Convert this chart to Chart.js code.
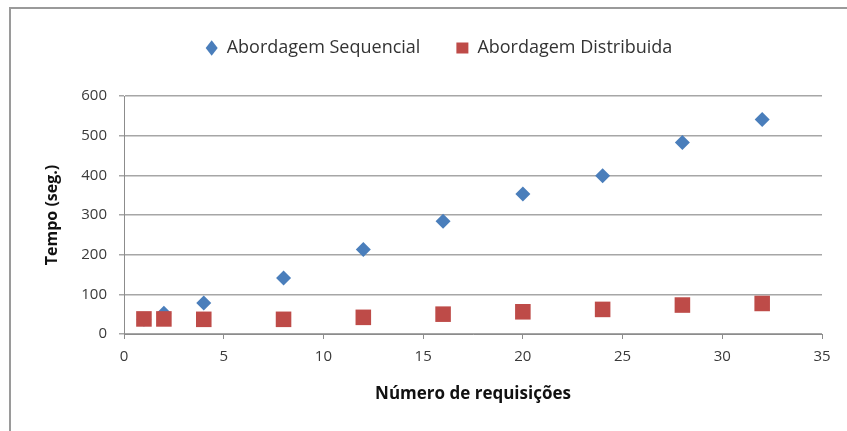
<!DOCTYPE html>
<html>
<head>
<meta charset="utf-8">
<script src="https://cdn.jsdelivr.net/npm/chart.js@4/dist/chart.umd.min.js"></script>
<style>
  html, body { margin: 0; padding: 0; background: #ffffff; }
  #wrap { width: 847px; height: 431px; }
</style>
</head>
<body>
<div id="wrap"><canvas id="c" width="847" height="431"></canvas></div>
<script>
// Número de requisições (eixo X)
const requisicoes = [1, 2, 4, 8, 12, 16, 20, 24, 28, 32];
// Tempo em segundos de cada abordagem
const tempoSequencial = [37, 52, 78, 141, 213, 284, 353, 399, 483, 541];
const tempoDistribuido = [38, 38, 37, 37, 42, 50, 56, 62, 73, 77];

const seriesNames = ['Abordagem Sequencial', 'Abordagem Distribuida'];
const xTitle = 'Número de requisições';
const yTitle = 'Tempo (seg.)';

const toPoints = (ys) => requisicoes.map((x, i) => ({ x: x, y: ys[i] }));

const FONT = '"Open Sans", "Liberation Sans", sans-serif';

// Moldura cinza à esquerda e no topo da figura
const frame = {
  id: 'frame',
  beforeDraw(chart) {
    const ctx = chart.ctx;
    ctx.save();
    ctx.strokeStyle = '#9a9a9a';
    ctx.lineWidth = 2;
    ctx.beginPath();
    ctx.moveTo(10, 431);
    ctx.lineTo(10, 8);
    ctx.lineTo(847, 8);
    ctx.stroke();
    ctx.restore();
  }
};

// Altura fixa da legenda (define o topo da área do gráfico) e
// legenda centrada sobre a área de plotagem
const legendLayout = {
  id: 'legendLayout',
  afterInit(chart) {
    const lg = chart.legend;
    if (!lg) return;
    const fit = lg.fit.bind(lg);
    lg.fit = function () {
      fit();
      this.height = 96;
    };
    const draw = lg.draw.bind(lg);
    lg.draw = function () {
      const ctx = this.ctx;
      ctx.save();
      ctx.translate(28, 3);
      draw();
      ctx.restore();
    };
  }
};

new Chart(document.getElementById('c'), {
  type: 'scatter',
  data: {
    datasets: [
      {
        label: seriesNames[0],
        data: toPoints(tempoSequencial),
        order: 1,
        pointStyle: 'rectRot',
        pointRadius: 7.5,
        pointHoverRadius: 7.5,
        backgroundColor: '#4a7ebb',
        borderColor: '#4a7ebb',
        borderWidth: 0
      },
      {
        label: seriesNames[1],
        data: toPoints(tempoDistribuido),
        order: 0,
        pointStyle: 'rect',
        pointRadius: 11,
        pointHoverRadius: 11,
        backgroundColor: '#be4b48',
        borderColor: '#be4b48',
        borderWidth: 0
      }
    ]
  },
  options: {
    responsive: false,
    animation: false,
    layout: { padding: { left: 0, right: 25, top: 0, bottom: 0 } },
    plugins: {
      tooltip: { enabled: false },
      legend: {
        position: 'top',
        labels: {
          usePointStyle: true,
          pointStyleWidth: 12,
          boxHeight: 11,
          padding: 36,
          color: '#333333',
          font: { family: FONT, size: 18 },
          sort: (a, b) => a.datasetIndex - b.datasetIndex
        }
      }
    },
    scales: {
      x: {
        type: 'linear',
        min: 0,
        max: 35,
        ticks: {
          stepSize: 5,
          color: '#3a3a3a',
          font: { family: FONT, size: 15 },
          padding: 9
        },
        grid: {
          display: true,
          drawOnChartArea: false,
          drawTicks: true,
          tickLength: 5,
          color: '#8c8c8c'
        },
        border: { color: '#8c8c8c', width: 1 },
        title: {
          display: true,
          text: xTitle,
          color: '#111111',
          font: { family: FONT, size: 17, weight: 'bold' },
          padding: { top: 0, bottom: 27 }
        },
        afterFit(s) { s.height = 97; }
      },
      y: {
        min: 0,
        max: 600,
        ticks: {
          stepSize: 100,
          color: '#3a3a3a',
          font: { family: FONT, size: 15 },
          padding: 12
        },
        grid: {
          color: '#a6a6a6',
          lineWidth: 1.5,
          tickLength: 5
        },
        border: { color: '#8c8c8c', width: 1 },
        title: {
          display: true,
          text: yTitle,
          color: '#111111',
          font: { family: FONT, size: 16, weight: 'bold' },
          padding: { top: 43, bottom: 0 }
        },
        afterFit(s) { s.width = 124; }
      }
    }
  },
  plugins: [frame, legendLayout]
});
</script>
</body>
</html>
